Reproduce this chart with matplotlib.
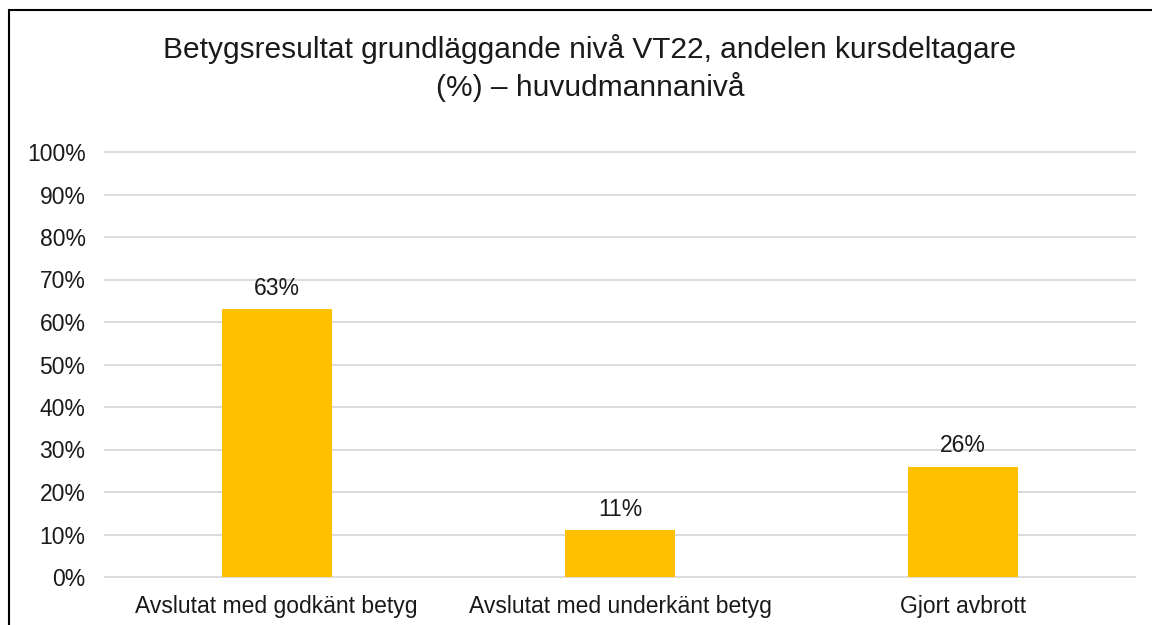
#!/usr/bin/env python3
"""Bar chart: grade results, basic level VT22 (share of course participants)."""

import matplotlib
matplotlib.use("Agg")
import matplotlib.pyplot as plt
from matplotlib.patches import Rectangle
from matplotlib.ticker import PercentFormatter

# data
categories = ["Avslutat med godkänt betyg", "Avslutat med underkänt betyg", "Gjort avbrott"]
values = [63, 11, 26]
title = "Betygsresultat grundläggande nivå VT22, andelen kursdeltagare\n(%) – huvudmannanivå"

plt.rcParams['font.family'] = ['Liberation Sans', 'DejaVu Sans']

fig = plt.figure(figsize=(11.52, 6.25), dpi=100)
ax = fig.add_axes([0.0911, 0.0768, 0.8941, 0.68])

x = range(len(categories))
ax.bar(x, values, width=0.32, color="#FFC000", zorder=3)

for xi, v in zip(x, values):
    ax.annotate(f"{v}%", (xi, v), xytext=(0, 7), textcoords="offset points",
                ha="center", va="bottom", fontsize=16.5, color="#1a1a1a")

ax.set_xlim(-0.5, len(categories) - 0.5)
ax.set_ylim(0, 100)
ax.set_yticks(range(0, 101, 10))
ax.yaxis.set_major_formatter(PercentFormatter(decimals=0))
ax.set_xticks(list(x))
ax.set_xticklabels(categories)
ax.tick_params(axis="both", length=0, labelsize=16.5, colors="#1a1a1a")
ax.tick_params(axis="x", pad=13)
ax.tick_params(axis="y", pad=14)

ax.grid(axis="y", color="#D9D9D9", linewidth=1.3, zorder=0)
for gl in ax.get_ygridlines():
    gl.set_clip_on(False)
for s in ax.spines.values():
    s.set_visible(False)

fig.text(0.512, 0.891, title, ha="center", va="center", fontsize=21.5,
         linespacing=1.36, color="#1a1a1a")

# outer chart border (right/bottom edges run off the image)
fig.patches.append(Rectangle((9 / 1152, -0.05), 1.2, 1 - 10 / 625 + 0.05,
                             transform=fig.transFigure, fill=False,
                             edgecolor="black", linewidth=1.5))

fig.savefig("out.png", dpi=100)
